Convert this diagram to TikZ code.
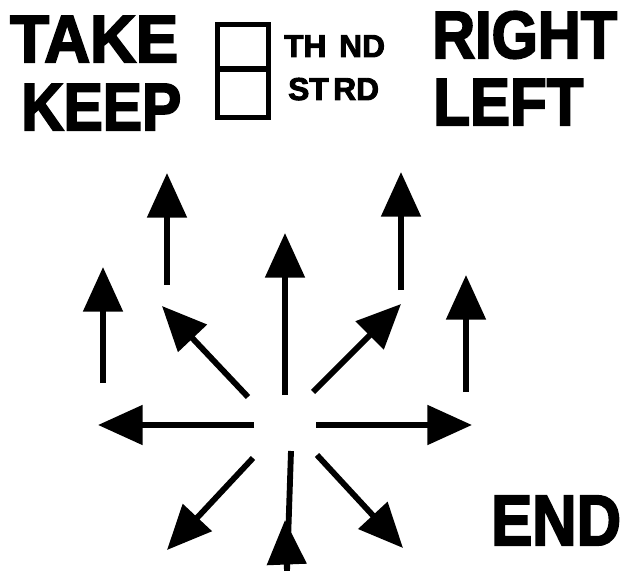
\documentclass[tikz,border=0pt]{standalone}
\usepackage{fontspec}
\newfontfamily\signfont[FakeBold=3]{Liberation Sans}
\usetikzlibrary{arrows.meta}

\begin{document}
\begin{tikzpicture}[
  x=0.03cm, y=-0.03cm,
  word/.style={anchor=base west, inner sep=0pt, font=\signfont\bfseries\fontsize{57}{57}\selectfont},
  tiny/.style={anchor=base west, inner sep=0pt, font=\signfont\bfseries\fontsize{27}{27}\selectfont},
  pointer/.style={line width=5pt, -{Triangle[length=38pt, width=33pt]}},
  slot/.style={draw, line width=4.3pt}
]
  \useasboundingbox (0,0) rectangle (621,571);

  % labels
  \node[word] (take)  at (10,62)   {\scalebox{0.95}[1]{TAKE}};
  \node[word] (keep)  at (21,130)  {\scalebox{0.88}[1]{KEEP}};
  \node[word] (right) at (432,58)  {\scalebox{0.89}[1]{RIGHT}};
  \node[word] (left)  at (433,125) {\scalebox{0.90}[1]{LEFT}};
  \node[tiny] (thnd)  at (284,57)  {TH\hspace{11pt}ND};
  \node[tiny] (strd)  at (288,100) {ST\hspace{4pt}RD};
  \node[word, font=\signfont\bfseries\fontsize{61}{61}\selectfont] (fin) at (491,545) {\scalebox{0.86}[1]{END}};

  % number slots
  \draw[slot] (217.5,24.5) rectangle (268.5,69);
  \draw[slot] (217.5,69) rectangle (268.5,117.5);

  % arrows
  \foreach \n/\xa/\ya/\xb/\yb in {farl/103/383/103/267, upl/167/285/167/173, mid/285/395/285/233,
                                  upr/401/290/401/172, farr/466/392/466/275,
                                  nw/248/397/162/306, ne/313/392/401/304,
                                  w/254/425/98/425, e/316/425/472/425,
                                  sw/253/458/167/550, se/317/455/403/548}{
    \coordinate (\n-s) at (\xa,\ya);
    \coordinate (\n-t) at (\xb,\yb);
    \draw[pointer] (\n-s) -- (\n-t);
  }

  % bottom arrow, head turned up
  \coordinate (bot-s) at (291,451);
  \coordinate (bot-e) at (287,571);
  \coordinate (bot-t) at (285,520);
  \draw[line width=5pt] (bot-s) -- (bot-e);
  \draw[pointer] (bot-e) -- (bot-t);
\end{tikzpicture}
\end{document}
